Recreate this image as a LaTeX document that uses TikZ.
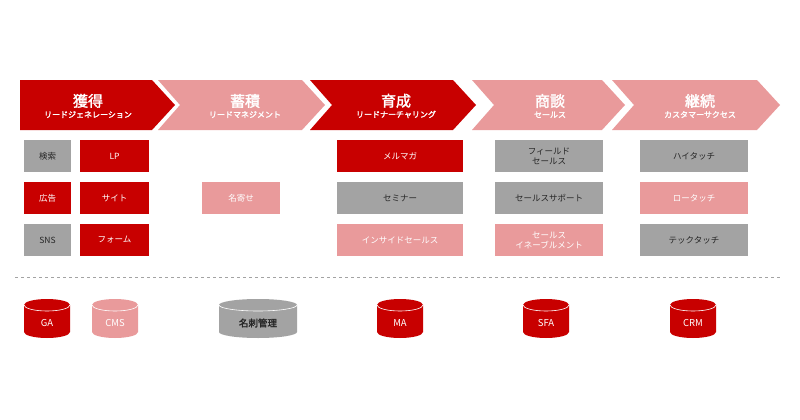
\documentclass[tikz,border=0pt]{standalone}
\usepackage{fontspec}
\setmainfont{Noto Sans CJK JP}
\newfontfamily\jpb{Noto Sans CJK JP}[FakeBold=2]
\definecolor{rd}{HTML}{C80000}
\definecolor{pk}{HTML}{E99A9B}
\definecolor{gy}{HTML}{A3A3A3}
\begin{document}
\begin{tikzpicture}[x=1pt,y=-1pt,
  bx/.style={minimum height=32pt,inner sep=0pt,font=\fontsize{8.5}{10}\selectfont,align=center},
  rb/.style={bx,fill=rd,text=white},
  pb/.style={bx,fill=pk,text=white},
  gb/.style={bx,fill=gy,text=black!85},
  ttl/.style={text=white,align=center,inner sep=0pt}]
\useasboundingbox (0,0) rectangle (800,420);
% chevrons
\fill[rd] (20,80) -- (152,80) -- (175,105) -- (152,130) -- (20,130) -- cycle;
\fill[pk] (158,80) -- (302,80) -- (325,105) -- (302,130) -- (158,130) -- (180,105) -- cycle;
\fill[rd] (310,80) -- (453,80) -- (476,105) -- (453,130) -- (310,130) -- (332,105) -- cycle;
\fill[pk] (472,80) -- (602,80) -- (625,105) -- (602,130) -- (472,130) -- (494,105) -- cycle;
\fill[pk] (612,80) -- (757,80) -- (780,105) -- (757,130) -- (612,130) -- (634,105) -- cycle;
\newcommand{\ttlnode}[4]{\node[ttl] (#1) at (#2,106) {{\jpb\fontsize{15}{16}\selectfont #3}\\[-1pt]{\jpb\fontsize{8}{9}\selectfont #4}};}
\ttlnode{t1}{88}{獲得}{リードジェネレーション}
\ttlnode{t2}{245}{蓄積}{リードマネジメント}
\ttlnode{t3}{396}{育成}{リードナーチャリング}
\ttlnode{t4}{550}{商談}{セールス}
\ttlnode{t5}{700}{継続}{カスタマーサクセス}
% boxes
\node[gb,minimum width=47pt] (kensaku) at (47.5,156) {検索};
\node[rb,minimum width=47pt] (koukoku) at (47.5,198) {広告};
\node[gb,minimum width=47pt] (sns) at (47.5,240) {SNS};
\node[rb,minimum width=69pt] (lp) at (114.5,156) {LP};
\node[rb,minimum width=69pt] (site) at (114.5,198) {サイト};
\node[rb,minimum width=69pt] (form) at (114.5,240) {フォーム};
\node[pb,minimum width=78pt] (nayose) at (241,198) {名寄せ};
\node[rb,minimum width=126pt] (merumaga) at (400,156) {メルマガ};
\node[gb,minimum width=126pt] (seminar) at (400,198) {セミナー};
\node[pb,minimum width=126pt] (inside) at (400,240) {インサイドセールス};
\node[gb,minimum width=108pt] (field) at (549,156) {フィールド\\セールス};
\node[gb,minimum width=108pt] (support) at (549,198) {セールスサポート};
\node[pb,minimum width=108pt] (enable) at (549,240) {セールス\\イネーブルメント};
\node[gb,minimum width=108pt] (hitouch) at (694,156) {ハイタッチ};
\node[pb,minimum width=108pt] (lowtouch) at (694,198) {ロータッチ};
\node[gb,minimum width=108pt] (techtouch) at (694,240) {テックタッチ};
% dashed line
\coordinate (dl) at (15,277); \coordinate (dr) at (782,277);
\draw[gy,dashed,line width=1pt] (dl) -- (dr);
% cylinders
\newcommand{\cyl}[6]{% name, cx, halfwidth, color, textcolor, text
  \fill[#4] (#2-#3,305) -- (#2-#3,332) arc[start angle=180,end angle=0,x radius=#3,y radius=6] -- (#2+#3,305) arc[start angle=0,end angle=-180,x radius=#3,y radius=6];
  \draw[white,line width=0.6pt] (#2-#3,305) arc[start angle=180,end angle=0,x radius=#3,y radius=6];
  \node[text=#5,font=\fontsize{9.5}{10}\selectfont,inner sep=0pt] (#1) at (#2,323) {#6};}
\cyl{ga}{47}{23}{rd}{white}{GA}
\cyl{cms}{115}{23}{pk}{white}{CMS}
\cyl{meishi}{258}{39}{gy}{black!85}{\jpb 名刺管理}
\cyl{ma}{400}{23}{rd}{white}{MA}
\cyl{sfa}{546}{23}{rd}{white}{SFA}
\cyl{crm}{693}{23}{rd}{white}{CRM}
\end{tikzpicture}
\end{document}
